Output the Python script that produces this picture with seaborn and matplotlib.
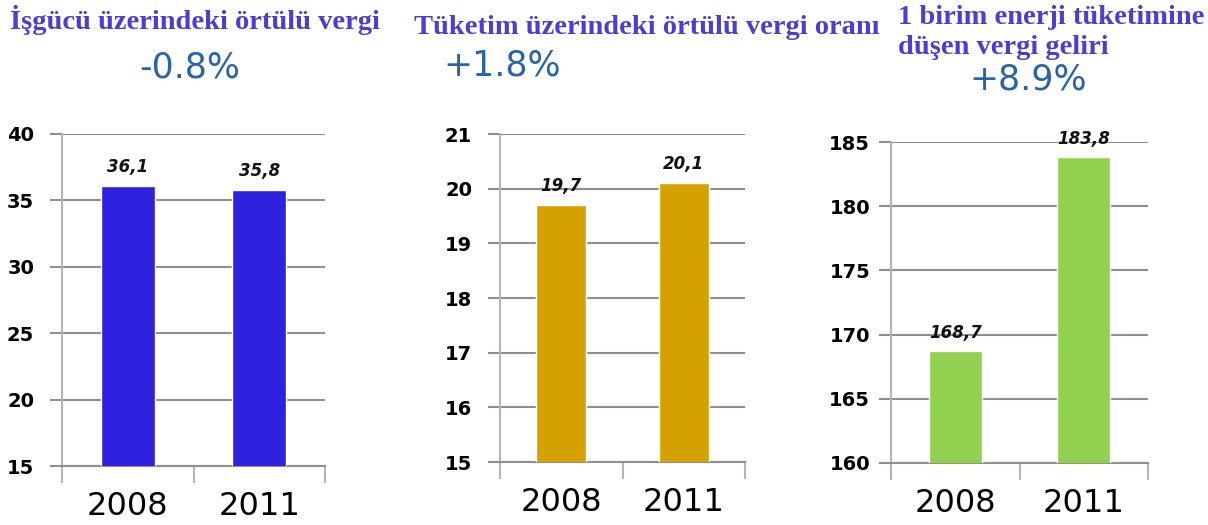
import matplotlib
matplotlib.use("Agg")
import matplotlib.pyplot as plt
import seaborn as sns
from matplotlib.ticker import FixedLocator

years = ["2008", "2011"]
isgucu = [36.1, 35.8]
tuketim = [19.7, 20.1]
enerji = [168.7, 183.8]

titles = ["İşgücü üzerindeki örtülü vergi",
          "Tüketim üzerindeki örtülü vergi oranı",
          "1 birim enerji tüketimine",
          "düşen vergi geliri"]
changes = ["-0.8%", "+1.8%", "+8.9%"]

sns.set_style("white")
plt.rcParams['font.family'] = ['DejaVu Sans']

W, H = 1208, 525
fig = plt.figure(figsize=(W / 100, H / 100), dpi=100)

grid_c = '#8f8f8f'
spine_c = '#b5b5b5'

panels = [
    dict(vals=isgucu, color='#2E22DE', box=(62, 325, 134, 466), ylim=(15, 40), step=5, pad=11),
    dict(vals=tuketim, color='#D4A100', box=(500, 745, 134, 462), ylim=(15, 21), step=1, pad=11),
    dict(vals=enerji, color='#92D050', box=(891, 1148, 142, 463), ylim=(160, 185), step=5, pad=6),
]

for p in panels:
    l, r, t, b = p['box']
    ax = fig.add_axes([l / W, 1 - b / H, (r - l) / W, (b - t) / H])
    sns.barplot(x=years, y=p['vals'], color=p['color'], saturation=1,
                width=0.41, ax=ax, zorder=3)
    lo, hi = p['ylim']
    ax.set_ylim(lo, hi)
    ax.set_xlim(-0.5, 1.5)
    ax.set_yticks(list(range(lo, hi + 1, p['step'])))
    ax.yaxis.grid(True, color=grid_c, linewidth=1.5, zorder=0)
    ax.set_axisbelow(True)
    for s in ['top', 'right']:
        ax.spines[s].set_visible(False)
    ax.spines['left'].set_color(spine_c)
    ax.spines['left'].set_linewidth(1.5)
    ax.spines['bottom'].set_color(grid_c)
    ax.spines['bottom'].set_linewidth(1.5)
    ax.tick_params(axis='y', left=True, length=9, width=1.5, color=grid_c, pad=p['pad'],
                   labelsize=14, labelcolor='black')
    for lab in ax.get_yticklabels():
        lab.set_fontweight('bold')
    ax.tick_params(axis='x', which='major', bottom=True, length=0, pad=18, labelsize=23,
                   labelcolor='black')
    ax.xaxis.set_minor_locator(FixedLocator([-0.5, 0.5, 1.5]))
    ax.tick_params(axis='x', which='minor', bottom=True, length=12, width=1.5, color=spine_c)
    ax.set_xlabel('')
    ax.set_ylabel('')
    ax.bar_label(ax.containers[0],
                 labels=[f"{v:.1f}".replace('.', ',') for v in p['vals']],
                 padding=7, fontsize=12, fontstyle='italic', fontweight='bold',
                 color='#111111')

title_c = '#4A40CC'
pct_c = '#2A64A6'
tfont = dict(family='Liberation Serif', fontweight='bold', fontsize=20.5, color=title_c)
fig.text(195 / W, 1 - 20 / H, titles[0], ha='center', va='center', **tfont)
fig.text(647 / W, 1 - 27 / H, titles[1], ha='center', va='center', **tfont)
fig.text(898 / W, 1 - 17 / H, titles[2], ha='left', va='center', **tfont)
fig.text(898 / W, 1 - 47 / H, titles[3], ha='left', va='center', **tfont)

pfont = dict(fontsize=25, color=pct_c)
fig.text(190 / W, 1 - 68 / H, changes[0], ha='center', va='center', **pfont)
fig.text(502 / W, 1 - 65 / H, changes[1], ha='center', va='center', **pfont)
fig.text(1028 / W, 1 - 80 / H, changes[2], ha='center', va='center', **pfont)

fig.savefig('out.png', dpi=100)
